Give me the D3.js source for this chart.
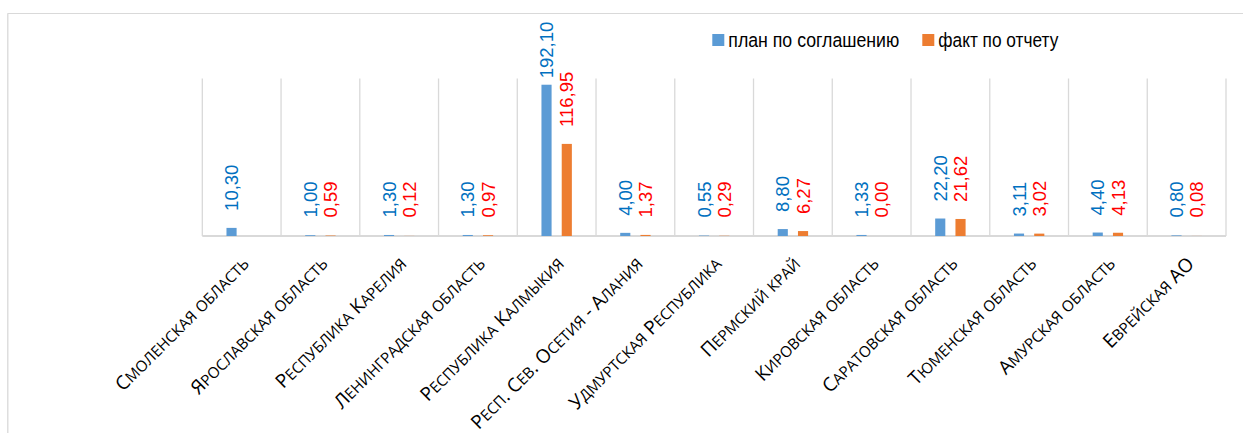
<!DOCTYPE html>
<html>
<head>
<meta charset="utf-8">
<script src="https://cdn.jsdelivr.net/npm/d3@7/dist/d3.min.js"></script>
<style>
  html, body { margin: 0; padding: 0; background: #fff; }
  svg { display: block; }
  .cat { font-family: "Open Sans", sans-serif; font-size: 19px; fill: #000; }
  .cat .sc { font-size: 15.2px; }
  .lbl { font-family: "Liberation Sans", Arial, sans-serif; font-size: 18.5px; }
  .leg { font-family: "Liberation Sans", Arial, sans-serif; font-size: 20.5px; fill: #000; }
</style>
</head>
<body>
<svg id="chart" width="1243" height="433"></svg>
<script>
const categories = [
  "Смоленская область", "Ярославская область", "Республика Карелия",
  "Ленинградская область", "Республика Калмыкия", "Респ. Сев. Осетия - Алания",
  "Удмуртская Республика", "Пермский край", "Кировская область",
  "Саратовская область", "Тюменская область", "Амурская область", "Еврейская АО"
];
const planValues = [10.30, 1.00, 1.30, 1.30, 192.10, 4.00, 0.55, 8.80, 1.33, 22.20, 3.11, 4.40, 0.80];
const factValues = [null, 0.59, 0.12, 0.97, 116.95, 1.37, 0.29, 6.27, 0.00, 21.62, 3.02, 4.13, 0.08];
const seriesNames = ["план по соглашению", "факт по отчету"];
const yDomain = [0, 200];

const barColors = ["#5B9BD5", "#ED7D31"];
const labelColors = ["#0070C0", "#FF0000"];
const gridColor = "#D9D9D9";

const svg = d3.select("#chart");

// outer frame (partially visible)
svg.append("line").attr("x1", 7.5).attr("x2", 1243).attr("y1", 13.5).attr("y2", 13.5)
  .attr("stroke", gridColor).attr("stroke-width", 1.2);
svg.append("line").attr("x1", 7.8).attr("x2", 7.8).attr("y1", 13.5).attr("y2", 433)
  .attr("stroke", gridColor).attr("stroke-width", 1.3);

const x = d3.scaleBand().domain(categories).range([202.3, 1226]).padding(0);
const bw = x.bandwidth();
const xInner = d3.scaleBand().domain(seriesNames).range([bw / 2 - 15.2, bw / 2 + 15.2]).paddingInner(0.5);
const y = d3.scaleLinear().domain(yDomain).range([236, 78.5]);

// vertical gridlines at category boundaries
const bounds = categories.map(c => x(c)).concat([x.range()[1]]);
svg.append("g").selectAll("line").data(bounds).join("line")
  .attr("x1", d => d).attr("x2", d => d)
  .attr("y1", y(yDomain[1])).attr("y2", y(0))
  .attr("stroke", gridColor).attr("stroke-width", 1.3);

// baseline
svg.append("line").attr("x1", x.range()[0]).attr("x2", x.range()[1])
  .attr("y1", y(0)).attr("y2", y(0)).attr("stroke", gridColor).attr("stroke-width", 1.8);

const series = [planValues, factValues];
series.forEach((vals, si) => {
  const data = categories.map((c, i) => ({ c, v: vals[i] })).filter(d => d.v !== null);
  svg.append("g").selectAll("rect").data(data).join("rect")
    .attr("x", d => x(d.c) + xInner(seriesNames[si]))
    .attr("width", xInner.bandwidth())
    .attr("y", d => y(d.v))
    .attr("height", d => y(0) - y(d.v))
    .attr("fill", barColors[si]);

  const lg = svg.append("g");
  data.forEach(d => {
    const cx = x(d.c) + xInner(seriesNames[si]) + xInner.bandwidth() / 2;
    const t = lg.append("text").attr("class", "lbl")
      .attr("fill", labelColors[si])
      .attr("dominant-baseline", "central")
      .text(d3.format(".2f")(d.v).replace(".", ","));
    const len = t.node().getComputedTextLength();
    let bottom = Math.min(y(d.v) - 17, 217.5);
    if (bottom - len < 21.7) bottom = 21.7 + len;
    t.attr("transform", `translate(${cx},${bottom}) rotate(-90)`);
  });
});

// category labels (small caps built from tspans)
function smallCapsRuns(s) {
  const runs = [];
  for (const ch of s) {
    const lower = ch !== ch.toUpperCase();
    const last = runs[runs.length - 1];
    if (last && last.lower === lower) last.text += lower ? ch.toUpperCase() : ch;
    else runs.push({ lower, text: lower ? ch.toUpperCase() : ch });
  }
  return runs;
}
const catText = svg.append("g").selectAll("text").data(categories).join("text")
  .attr("class", "cat")
  .attr("text-anchor", "end")
  .attr("transform", d => `translate(${x(d) + bw / 2 + 8.5},265) rotate(-45)`);
catText.each(function (d) {
  d3.select(this).selectAll("tspan").data(smallCapsRuns(d)).join("tspan")
    .attr("class", r => r.lower ? "sc" : null)
    .text(r => r.text);
});

// legend
const legX = [712.3, 922.3];
const legW = [171, 120];
seriesNames.forEach((n, i) => {
  svg.append("rect").attr("x", legX[i]).attr("y", 34).attr("width", 12).attr("height", 12)
    .attr("fill", barColors[i]);
  svg.append("text").attr("class", "leg").attr("x", legX[i] + 16).attr("y", 46.8)
    .attr("textLength", legW[i]).attr("lengthAdjust", "spacingAndGlyphs").text(n);
});
</script>
</body>
</html>
